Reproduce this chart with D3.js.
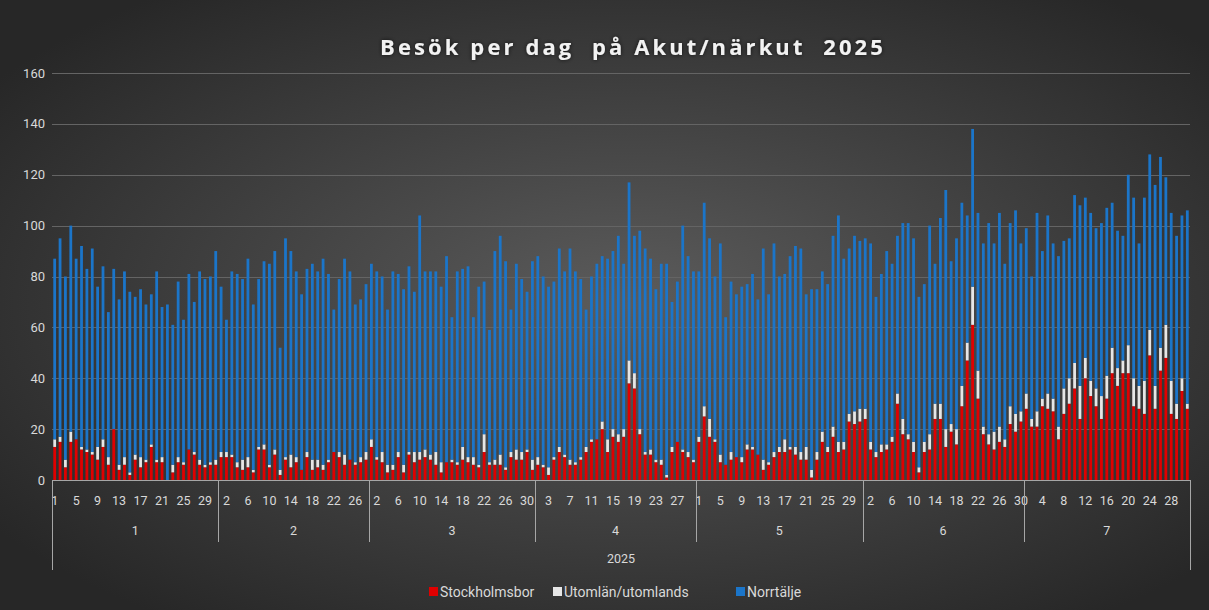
<!DOCTYPE html>
<html>
<head>
<meta charset="utf-8">
<title>Besök per dag på Akut/närkut 2025</title>
<script src="https://cdn.jsdelivr.net/npm/d3@7"></script>
<style>
    body { margin: 0; background: #2b2b2b; }
    svg text { font-family: Roboto, "Noto Sans", sans-serif; }
</style>
</head>
<body>
<script>

    var width = 1209
    var height = 610

    // months shown on the axis and number of days in each
    var months = ["1", "2", "3", "4", "5", "6", "7"]
    var monthDays = [31, 28, 31, 30, 31, 30, 31]
    var yearLabel = "2025"
    var yTicks = [0, 20, 40, 60, 80, 100, 120, 140, 160]

    var seriesNames = ["Stockholmsbor", "Utomlän/utomlands", "Norrtälje"]
    var seriesColors = ["#e00000", "#e6e6e6", "#1b75c9"]

    // visits per day, 1 jan - 31 jul
    var stockholm = [
        13, 15, 5, 15, 16, 12, 11, 10, 8, 13, 6, 20, 4, 6, 2, 8, 5, 7, 13, 7, 7, 0, 3, 7, 6, 12, 10, 6, 5, 6, 6,
        9, 9, 9, 5, 4, 5, 3, 12, 12, 5, 10, 2, 8, 5, 7, 4, 9, 4, 5, 4, 7, 11, 9, 6, 8, 6, 7, 8,
        13, 8, 7, 3, 4, 9, 3, 10, 7, 8, 9, 8, 6, 3, 7, 7, 6, 8, 7, 6, 5, 11, 6, 6, 6, 4, 9, 8, 8, 11, 4,
        6, 5, 2, 8, 11, 9, 6, 6, 8, 11, 15, 16, 20, 11, 17, 15, 17, 38, 36, 18, 10, 10, 7, 6, 1, 11, 15, 11, 9, 7,
        15, 25, 17, 15, 7, 6, 8, 9, 7, 12, 12, 10, 4, 6, 9, 11, 11, 12, 10, 8, 8, 1, 8, 15, 11, 17, 11, 12, 23, 22, 23,
        24, 12, 9, 11, 12, 15, 30, 18, 16, 11, 3, 11, 12, 24, 24, 13, 19, 14, 29, 47, 61, 32, 18, 14, 12, 15, 13, 22, 19, 23,
        28, 21, 21, 29, 28, 27, 16, 26, 30, 36, 24, 40, 33, 29, 24, 32, 42, 37, 42, 42, 29, 28, 26, 49, 28, 43, 48, 26, 24, 35, 28
    ]
    var utomlan = [
        3, 2, 3, 4, 0, 1, 1, 1, 5, 3, 3, 0, 2, 3, 1, 2, 4, 1, 1, 1, 2, 0, 3, 2, 1, 0, 1, 2, 1, 1, 2,
        2, 2, 1, 2, 4, 4, 1, 1, 2, 1, 2, 2, 1, 5, 2, 0, 2, 4, 3, 2, 1, 0, 2, 4, 0, 1, 2, 3,
        3, 1, 4, 3, 2, 2, 3, 1, 4, 3, 3, 2, 5, 4, 0, 1, 1, 5, 2, 3, 1, 7, 1, 2, 4, 1, 2, 4, 3, 1, 4,
        3, 1, 3, 1, 2, 1, 2, 1, 1, 2, 1, 0, 3, 5, 3, 3, 3, 9, 6, 2, 1, 2, 1, 2, 1, 2, 0, 1, 2, 1,
        2, 4, 7, 1, 3, 0, 3, 0, 2, 2, 1, 0, 4, 1, 2, 2, 5, 1, 3, 3, 5, 3, 3, 4, 2, 4, 4, 3, 3, 5, 5,
        4, 3, 2, 3, 2, 2, 4, 6, 2, 4, 2, 4, 6, 6, 6, 7, 3, 6, 8, 7, 15, 11, 3, 4, 7, 6, 3, 7, 7, 4,
        6, 3, 6, 3, 6, 5, 5, 10, 10, 10, 13, 8, 6, 7, 9, 9, 10, 7, 5, 11, 11, 9, 13, 10, 9, 9, 13, 13, 6, 5, 2
    ]
    var norrtalje = [
        71, 78, 72, 81, 71, 79, 71, 80, 63, 68, 57, 63, 65, 73, 71, 62, 66, 61, 59, 74, 59, 69, 55, 69, 56, 69, 59, 74, 73, 73, 82,
        65, 52, 72, 74, 71, 78, 65, 66, 72, 79, 78, 48, 86, 80, 73, 69, 72, 77, 74, 81, 73, 56, 68, 77, 74, 62, 62, 66,
        69, 73, 69, 61, 76, 70, 69, 73, 63, 93, 70, 72, 71, 69, 81, 56, 75, 70, 75, 55, 70, 60, 52, 82, 86, 81, 56, 73, 68, 62, 78,
        79, 74, 71, 69, 78, 72, 83, 75, 70, 54, 64, 69, 65, 71, 70, 78, 65, 70, 54, 78, 80, 75, 67, 77, 83, 57, 63, 88, 77, 74,
        65, 80, 71, 64, 83, 58, 67, 64, 67, 63, 68, 61, 83, 66, 82, 67, 65, 75, 79, 80, 60, 71, 64, 63, 64, 75, 89, 72, 65, 69, 66,
        67, 78, 61, 67, 76, 68, 62, 77, 83, 80, 67, 62, 82, 55, 73, 94, 64, 75, 72, 50, 62, 62, 72, 83, 74, 84, 69, 72, 80, 66,
        65, 56, 78, 58, 70, 61, 67, 58, 55, 66, 71, 63, 66, 63, 68, 66, 57, 54, 49, 67, 71, 56, 72, 69, 79, 75, 58, 66, 66, 64, 76
    ]

    // build the day categories (day of month + month index)
    var days = []
    months.forEach(function (m, mi) {
        for (var d = 1; d <= monthDays[mi]; d++) {
            days.push({ day: d, month: mi })
        }
    })

    var rows = days.map(function (d, i) {
        return { i: i, day: d.day, month: d.month, s0: stockholm[i], s1: utomlan[i], s2: norrtalje[i] }
    })

    var stack = d3.stack().keys(["s0", "s1", "s2"])(rows)

    // plot box (note: "top" is a reserved window prop, so prefixed names)
    var plotLeft = 52, plotRight = 1190, plotTop = 73, plotBottom = 480

    var x = d3.scaleBand()
        .domain(rows.map(function (d) { return d.i }))
        .range([plotLeft, plotRight])
        .paddingInner(0.48)
        .paddingOuter(0.24)

    var y = d3.scaleLinear()
        .domain([0, 160])
        .range([plotBottom, plotTop])

    var svg = d3.select("body")
        .append("svg")
        .attr("width", width)
        .attr("height", height)

    var defs = svg.append("defs")
    var grad = defs.append("radialGradient")
        .attr("id", "bg")
        .attr("cx", "52%").attr("cy", "50%").attr("r", "64%")
    grad.append("stop").attr("offset", "0%").attr("stop-color", "#5c5c5c")
    grad.append("stop").attr("offset", "100%").attr("stop-color", "#272727")

    var shadow = defs.append("filter").attr("id", "glow")
        .attr("x", "-5%").attr("y", "-30%").attr("width", "110%").attr("height", "160%")
    shadow.append("feDropShadow")
        .attr("dx", 0).attr("dy", 0).attr("stdDeviation", 2)
        .attr("flood-color", "#000").attr("flood-opacity", 0.7)

    svg.append("rect")
        .attr("width", width)
        .attr("height", height)
        .attr("fill", "url(#bg)")

    // title
    svg.append("text")
        .attr("x", 633)
        .attr("y", 55)
        .attr("text-anchor", "middle")
        .attr("fill", "#f2f2f2")
        .attr("font-size", "22px")
        .attr("font-weight", "bold")
        .style("letter-spacing", "3.1px")
        .style("white-space", "pre")
        .style("font-family", "'Open Sans', sans-serif")
        .attr("filter", "url(#glow)")
        .text("Besök per dag  på Akut/närkut  2025")

    // gridlines + y labels
    svg.append("g")
        .selectAll("line")
        .data(yTicks.slice(1))
        .enter()
        .append("line")
        .attr("x1", plotLeft)
        .attr("x2", plotRight)
        .attr("y1", function (d) { return Math.round(y(d)) + 0.5 })
        .attr("y2", function (d) { return Math.round(y(d)) + 0.5 })
        .attr("stroke", "#646464")
        .attr("stroke-width", 1)

    svg.append("g")
        .selectAll("text")
        .data(yTicks)
        .enter()
        .append("text")
        .attr("x", 45)
        .attr("y", function (d) { return y(d) + 4.5 })
        .attr("text-anchor", "end")
        .attr("fill", "#d9d9d9")
        .attr("font-size", "13px")
        .text(function (d) { return d })

    // stacked bars
    var layers = svg.append("g")
        .selectAll("g")
        .data(stack)
        .enter()
        .append("g")
        .attr("fill", function (d, k) { return seriesColors[k] })

    layers.selectAll("rect")
        .data(function (d) { return d })
        .enter()
        .append("rect")
        .attr("x", function (d) { return x(d.data.i) })
        .attr("width", x.bandwidth())
        .attr("y", function (d) { return y(d[1]) })
        .attr("height", function (d) { return y(d[0]) - y(d[1]) })

    // axis line
    svg.append("line")
        .attr("x1", plotLeft).attr("x2", plotRight)
        .attr("y1", plotBottom + 0.5).attr("y2", plotBottom + 0.5)
        .attr("stroke", "#a6a6a6")

    // day labels, every 4th category
    var axisG = svg.append("g")
    axisG.selectAll("text.day")
        .data(rows.filter(function (d) { return d.i % 4 == 0 }))
        .enter()
        .append("text")
        .attr("class", "day")
        .attr("x", function (d) { return x(d.i) + x.bandwidth() / 2 })
        .attr("y", 505)
        .attr("text-anchor", "middle")
        .attr("fill", "#d9d9d9")
        .attr("font-size", "12.5px")
        .text(function (d) { return d.day })

    // month separators and labels
    var start = 0
    var bounds = []
    monthDays.forEach(function (n) {
        bounds.push([start, start + n - 1])
        start += n
    })
    var step = x.step()
    bounds.forEach(function (b, mi) {
        var x0 = x(b[0]) - step * x.paddingInner() / 2
        var x1 = x(b[1]) + x.bandwidth() + step * x.paddingInner() / 2
        if (mi == 0) x0 = plotLeft
        if (mi == bounds.length - 1) x1 = plotRight
        axisG.append("text")
            .attr("x", (x0 + x1) / 2)
            .attr("y", 535)
            .attr("text-anchor", "middle")
            .attr("fill", "#d9d9d9")
            .attr("font-size", "12.5px")
            .text(months[mi])
        if (mi > 0) {
            axisG.append("line")
                .attr("x1", Math.round(x0) + 0.5).attr("x2", Math.round(x0) + 0.5)
                .attr("y1", plotBottom).attr("y2", 542)
                .attr("stroke", "#a6a6a6")
        }
    })
    ;[plotLeft, plotRight].forEach(function (xx) {
        axisG.append("line")
            .attr("x1", xx + 0.5).attr("x2", xx + 0.5)
            .attr("y1", plotBottom).attr("y2", 570)
            .attr("stroke", "#a6a6a6")
    })
    axisG.append("text")
        .attr("x", (plotLeft + plotRight) / 2)
        .attr("y", 563)
        .attr("text-anchor", "middle")
        .attr("fill", "#d9d9d9")
        .attr("font-size", "12.5px")
        .text(yearLabel)

    // legend
    var legendX = [429, 553, 736]
    var legend = svg.append("g")
    seriesNames.forEach(function (name, k) {
        legend.append("rect")
            .attr("x", legendX[k])
            .attr("y", 587)
            .attr("width", 9)
            .attr("height", 9)
            .attr("fill", seriesColors[k])
        legend.append("text")
            .attr("x", legendX[k] + 11)
            .attr("y", 597)
            .attr("fill", "#d9d9d9")
            .attr("font-size", "14px")
            .text(name)
    })

</script>
</body>
</html>
